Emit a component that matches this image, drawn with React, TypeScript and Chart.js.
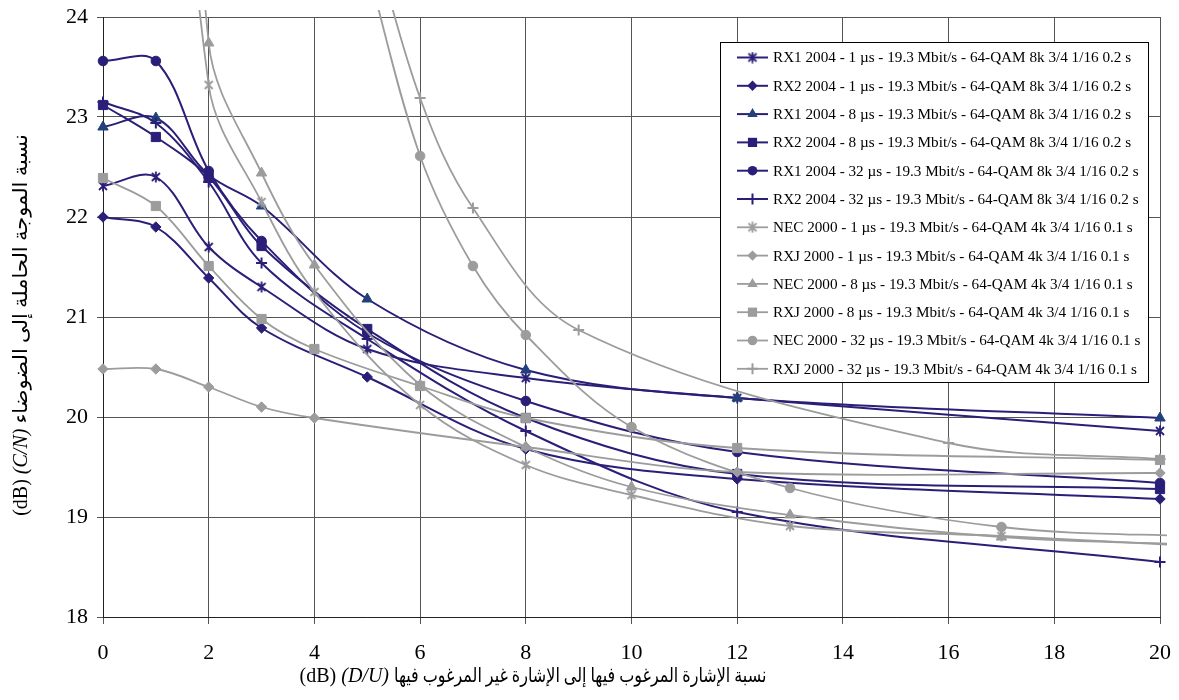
import React, { useEffect, useRef } from 'react';
import { Chart, registerables } from 'chart.js';

Chart.register(...registerables);

// ---------------- DATA ----------------
const xTickValues = [0, 2, 4, 6, 8, 10, 12, 14, 16, 18, 20];
const yTickValues = [18, 19, 20, 21, 22, 23, 24];

const seriesLabels = [
  'RX1 2004 - 1 µs - 19.3 Mbit/s - 64-QAM 8k 3/4 1/16 0.2 s',
  'RX2 2004 - 1 µs - 19.3 Mbit/s - 64-QAM 8k 3/4 1/16 0.2 s',
  'RX1 2004 - 8 µs - 19.3 Mbit/s - 64-QAM 8k 3/4 1/16 0.2 s',
  'RX2 2004 - 8 µs - 19.3 Mbit/s - 64-QAM 8k 3/4 1/16 0.2 s',
  'RX1 2004 - 32 µs - 19.3 Mbit/s - 64-QAM 8k 3/4 1/16 0.2 s',
  'RX2 2004 - 32 µs - 19.3 Mbit/s - 64-QAM 8k 3/4 1/16 0.2 s',
  'NEC 2000 - 1 µs - 19.3 Mbit/s - 64-QAM 4k 3/4 1/16 0.1 s',
  'RXJ 2000 - 1 µs - 19.3 Mbit/s - 64-QAM 4k 3/4 1/16 0.1 s',
  'NEC 2000 - 8 µs - 19.3 Mbit/s - 64-QAM 4k 3/4 1/16 0.1 s',
  'RXJ 2000 - 8 µs - 19.3 Mbit/s - 64-QAM 4k 3/4 1/16 0.1 s',
  'NEC 2000 - 32 µs - 19.3 Mbit/s - 64-QAM 4k 3/4 1/16 0.1 s',
  'RXJ 2000 - 32 µs - 19.3 Mbit/s - 64-QAM 4k 3/4 1/16 0.1 s',
];

// D/U (dB) of the 2004 measurements
const rx2004X = [0, 1, 2, 3, 5, 8, 12, 20];
const rx1_1us = [22.31, 22.40, 21.70, 21.30, 20.68, 20.39, 20.19, 19.86];
const rx2_1us = [22.00, 21.90, 21.39, 20.89, 20.40, 19.68, 19.38, 19.18];
const rx1_8us = [22.90, 22.99, 22.42, 22.11, 21.18, 20.47, 20.19, 19.99];
const rx2_8us = [23.12, 22.80, 22.40, 21.71, 20.88, 19.99, 19.43, 19.28];
const rx1_32us = [23.56, 23.56, 22.46, 21.76, 20.84, 20.16, 19.65, 19.34];
const rx2_32us = [23.15, 22.94, 22.35, 21.54, 20.78, 19.86, 19.05, 18.55];

// 2000 measurements
const nec1X = [1, 2, 3, 4, 6, 8, 10, 13, 17, 21];
const nec1us = [30.0, 23.32, 22.15, 21.25, 20.12, 19.52, 19.22, 18.91, 18.81, 18.70];
const rxj1X = [0, 1, 2, 3, 4, 8, 12, 20];
const rxj1us = [20.48, 20.48, 20.30, 20.10, 19.99, 19.70, 19.45, 19.44];
const nec8X = [1, 2, 3, 4, 6, 8, 10, 13, 17, 21];
const nec8us = [33.0, 23.74, 22.44, 21.52, 20.32, 19.70, 19.30, 19.02, 18.80, 18.72];
const rxj8X = [0, 1, 2, 3, 4, 6, 8, 12, 20];
const rxj8us = [22.39, 22.11, 21.51, 20.98, 20.68, 20.31, 19.99, 19.69, 19.57];
const nec32X = [5, 6, 7, 8, 10, 13, 17, 21];
const nec32us = [24.5, 22.61, 21.51, 20.82, 19.90, 19.29, 18.90, 18.80];
const rxj32X = [5, 6, 7, 9, 16, 20];
const rxj32us = [25.0, 23.19, 22.09, 20.87, 19.74, 19.58];

const xTitleArabic = 'نسبة الإشارة المرغوب فيها إلى الإشارة غير المرغوب فيها';
const xTitleItalic = '(D/U)';
const yTitleArabic = 'نسبة الموجة الحاملة إلى الضوضاء';
const yTitleItalic = '(C/N)';
const unitText = '(dB)';

// ---------------- STYLE ----------------
const DARK = '#2a1f78';
const DARK_TRI = '#21407c';
const GREY = '#9c9c9c';
const FONT = "'Liberation Serif', 'Times New Roman', serif";
const AR_FONT = "'Liberation Serif', 'DejaVu Sans', serif";

type Marker = 'asterisk' | 'diamond' | 'triangle' | 'square' | 'circle' | 'plus';

const seriesDefs: { xs: number[]; ys: number[]; color: string; mColor: string; marker: Marker; lw: number }[] = [
  { xs: rx2004X, ys: rx1_1us, color: DARK, mColor: DARK, marker: 'asterisk', lw: 2 },
  { xs: rx2004X, ys: rx2_1us, color: DARK, mColor: DARK, marker: 'diamond', lw: 2 },
  { xs: rx2004X, ys: rx1_8us, color: DARK, mColor: DARK_TRI, marker: 'triangle', lw: 2 },
  { xs: rx2004X, ys: rx2_8us, color: DARK, mColor: DARK, marker: 'square', lw: 2 },
  { xs: rx2004X, ys: rx1_32us, color: DARK, mColor: DARK, marker: 'circle', lw: 2 },
  { xs: rx2004X, ys: rx2_32us, color: DARK, mColor: DARK, marker: 'plus', lw: 2 },
  { xs: nec1X, ys: nec1us, color: GREY, mColor: GREY, marker: 'asterisk', lw: 1.8 },
  { xs: rxj1X, ys: rxj1us, color: GREY, mColor: GREY, marker: 'diamond', lw: 1.8 },
  { xs: nec8X, ys: nec8us, color: GREY, mColor: GREY, marker: 'triangle', lw: 1.8 },
  { xs: rxj8X, ys: rxj8us, color: GREY, mColor: GREY, marker: 'square', lw: 1.8 },
  { xs: nec32X, ys: nec32us, color: GREY, mColor: GREY, marker: 'circle', lw: 1.8 },
  { xs: rxj32X, ys: rxj32us, color: GREY, mColor: GREY, marker: 'plus', lw: 1.8 },
];

function makeAsterisk(color: string): HTMLCanvasElement {
  const c = document.createElement('canvas');
  c.width = 12;
  c.height = 12;
  const g = c.getContext('2d')!;
  g.strokeStyle = color;
  g.lineWidth = 1.8;
  g.beginPath();
  g.moveTo(2, 2);
  g.lineTo(10, 10);
  g.moveTo(10, 2);
  g.lineTo(2, 10);
  g.moveTo(6, 0.5);
  g.lineTo(6, 11.5);
  g.stroke();
  return c;
}

function markerOpts(m: Marker) {
  switch (m) {
    case 'diamond':
      return { pointStyle: 'rectRot', pointRadius: 5.2, pointBorderWidth: 1 };
    case 'triangle':
      return { pointStyle: 'triangle', pointRadius: 6, pointBorderWidth: 1 };
    case 'square':
      return { pointStyle: 'rect', pointRadius: 6.5, pointBorderWidth: 1 };
    case 'circle':
      return { pointStyle: 'circle', pointRadius: 4.8, pointBorderWidth: 1 };
    case 'plus':
    default:
      return { pointStyle: 'cross', pointRadius: 5.5, pointBorderWidth: 2 };
  }
}

function drawLegendMarker(ctx: CanvasRenderingContext2D, m: Marker, color: string, x: number, y: number, ast: HTMLCanvasElement) {
  ctx.save();
  ctx.fillStyle = color;
  ctx.strokeStyle = color;
  ctx.lineWidth = 1;
  ctx.beginPath();
  if (m === 'asterisk') {
    ctx.drawImage(ast, x - 6, y - 6);
  } else if (m === 'diamond') {
    ctx.moveTo(x, y - 5.2);
    ctx.lineTo(x + 5.2, y);
    ctx.lineTo(x, y + 5.2);
    ctx.lineTo(x - 5.2, y);
    ctx.closePath();
    ctx.fill();
  } else if (m === 'triangle') {
    const r = 6;
    ctx.moveTo(x, y - r);
    ctx.lineTo(x + r * 0.866, y + r * 0.5);
    ctx.lineTo(x - r * 0.866, y + r * 0.5);
    ctx.closePath();
    ctx.fill();
  } else if (m === 'square') {
    ctx.rect(x - 4.6, y - 4.6, 9.2, 9.2);
    ctx.fill();
  } else if (m === 'circle') {
    ctx.arc(x, y, 4.8, 0, Math.PI * 2);
    ctx.fill();
  } else {
    ctx.lineWidth = 2;
    ctx.moveTo(x - 5.5, y);
    ctx.lineTo(x + 5.5, y);
    ctx.moveTo(x, y - 5.5);
    ctx.lineTo(x, y + 5.5);
    ctx.stroke();
  }
  ctx.restore();
}

function drawMixedTitle(
  ctx: CanvasRenderingContext2D,
  cx: number,
  cy: number,
  size: number,
  italic: string,
  arabic: string,
  arScale: number
) {
  const normal = `${size}px ${FONT}`;
  const ital = `italic ${size}px ${FONT}`;
  const ar = `${size}px ${AR_FONT}`;
  ctx.font = normal;
  const wUnit = ctx.measureText(unitText).width;
  const wSpace = ctx.measureText(' ').width;
  ctx.font = ital;
  const wIt = ctx.measureText(italic).width;
  ctx.font = ar;
  const wAr = ctx.measureText(arabic).width * arScale;
  const total = wUnit + wSpace + wIt + wSpace + wAr;
  let x = cx - total / 2;
  ctx.textAlign = 'left';
  ctx.textBaseline = 'middle';
  ctx.fillStyle = '#000';
  ctx.font = normal;
  ctx.fillText(unitText, x, cy);
  x += wUnit + wSpace;
  ctx.font = ital;
  ctx.fillText(italic, x, cy);
  x += wIt + wSpace;
  ctx.font = ar;
  ctx.save();
  ctx.translate(x, cy);
  ctx.scale(arScale, 1);
  ctx.fillText(arabic, 0, 0);
  ctx.restore();
}

export default function App() {
  const ref = useRef<HTMLCanvasElement | null>(null);

  useEffect(() => {
    const canvas = ref.current;
    if (!canvas) return;
    const darkAst = makeAsterisk(DARK);
    const greyAst = makeAsterisk(GREY);

    const datasets = seriesDefs.map((s, i) => {
      const ast = s.color === DARK ? darkAst : greyAst;
      const mk =
        s.marker === 'asterisk'
          ? { pointStyle: ast, pointRadius: 6, pointBorderWidth: 0 }
          : markerOpts(s.marker);
      return {
        label: seriesLabels[i],
        data: s.xs.map((x, j) => ({ x, y: s.ys[j] })),
        borderColor: s.color,
        backgroundColor: s.mColor,
        borderWidth: s.lw,
        pointBackgroundColor: s.mColor,
        pointBorderColor: s.mColor,
        ...mk,
        pointHoverRadius: 0,
        tension: 0.35,
        fill: false,
        order: seriesDefs.length - 1 - i,
        clip: { left: 8, top: 7, right: 7, bottom: 0 },
      };
    });

    const overlay = {
      id: 'overlay',
      afterDraw(chart: any) {
        const ctx: CanvasRenderingContext2D = chart.ctx;
        ctx.save();
        const L = 720.5, T = 42.5, R = 1148.5, B = 382.5;
        ctx.fillStyle = '#fff';
        ctx.fillRect(L, T, R - L, B - T);
        ctx.strokeStyle = '#000';
        ctx.lineWidth = 1;
        ctx.strokeRect(L, T, R - L, B - T);
        seriesDefs.forEach((s, i) => {
          const y = 57.5 + i * 28.3;
          ctx.beginPath();
          ctx.strokeStyle = s.color;
          ctx.lineWidth = s.lw;
          ctx.moveTo(737, y);
          ctx.lineTo(768, y);
          ctx.stroke();
          drawLegendMarker(ctx, s.marker, s.mColor, 752.5, y, s.color === DARK ? darkAst : greyAst);
          ctx.fillStyle = '#000';
          ctx.font = `15.2px ${FONT}`;
          ctx.textAlign = 'left';
          ctx.textBaseline = 'middle';
          ctx.fillText(seriesLabels[i], 773, y + 1);
        });
        drawMixedTitle(ctx, 533, 677, 20, xTitleItalic, xTitleArabic, 0.8);
        ctx.translate(22, 325);
        ctx.rotate(-Math.PI / 2);
        drawMixedTitle(ctx, 0, 0, 20, yTitleItalic, yTitleArabic, 1.05);
        ctx.restore();
      },
    };

    const chart = new Chart(canvas, {
      type: 'line',
      data: { datasets: datasets as any },
      options: {
        animation: false,
        responsive: false,
        devicePixelRatio: 1,
        layout: { padding: { left: 0, top: 17, right: 19, bottom: 0 } },
        elements: { line: { capBezierPoints: false } },
        plugins: {
          legend: { display: false },
          tooltip: { enabled: false },
        },
        scales: {
          x: {
            type: 'linear',
            min: 0,
            max: 20,
            afterBuildTicks: (s: any) => {
              s.ticks = xTickValues.map((v) => ({ value: v }));
            },
            afterFit: (s: any) => {
              s.height = 83;
              s.paddingLeft = 0;
              s.paddingRight = 0;
            },
            ticks: {
              color: '#000',
              font: { family: FONT, size: 22 },
              padding: 16,
              maxRotation: 0,
              autoSkip: false,
            },
            grid: { color: '#555', lineWidth: 1, tickLength: 7, drawTicks: true },
            border: { color: '#222', width: 1 },
          },
          y: {
            type: 'linear',
            min: 18,
            max: 24,
            afterBuildTicks: (s: any) => {
              s.ticks = yTickValues.map((v) => ({ value: v }));
            },
            afterFit: (s: any) => {
              s.width = 103;
              s.paddingTop = 0;
              s.paddingBottom = 0;
            },
            ticks: {
              color: '#000',
              font: { family: FONT, size: 22 },
              padding: 9,
              autoSkip: false,
            },
            grid: { color: '#555', lineWidth: 1, tickLength: 6, drawTicks: true },
            border: { color: '#222', width: 1 },
          },
        },
      },
      plugins: [overlay],
    });

    return () => chart.destroy();
  }, []);

  return (
    <div style={{ position: 'absolute', left: 0, top: 0, width: 1179, height: 700, background: '#fff' }}>
      <canvas ref={ref} width={1179} height={700} style={{ width: 1179, height: 700, display: 'block' }} />
    </div>
  );
}
